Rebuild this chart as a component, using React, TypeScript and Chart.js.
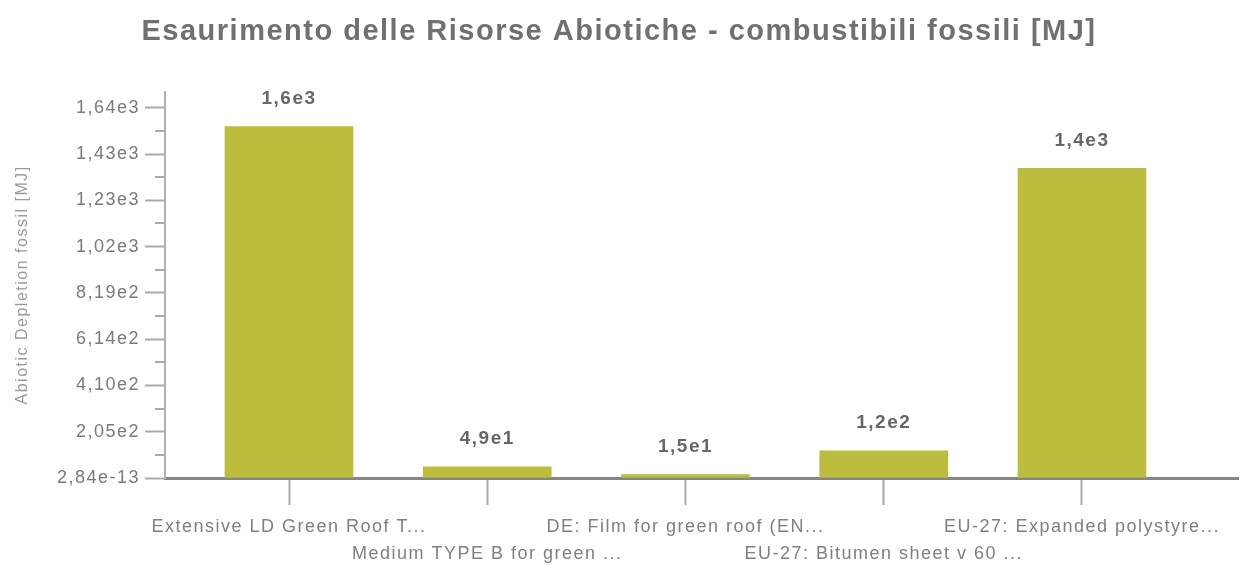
import React, { useEffect, useRef } from 'react';
import { Chart, registerables } from 'chart.js';

Chart.register(...registerables);

const chartTitle = 'Esaurimento delle Risorse Abiotiche - combustibili fossili [MJ]';
const yAxisTitle = 'Abiotic Depletion fossil [MJ]';
const categories = [
  'Extensive LD Green Roof T...',
  'Medium TYPE B for green ...',
  'DE: Film for green roof (EN...',
  'EU-27: Bitumen sheet v 60 ...',
  'EU-27: Expanded polystyre...',
];
const values = [1555, 49, 15, 120, 1370];
const yTickStep = 204.8;
const yTickLabels = ['2,84e-13', '2,05e2', '4,10e2', '6,14e2', '8,19e2', '1,02e3', '1,23e3', '1,43e3', '1,64e3'];
const yMax = 1709;

const FONT = '"Liberation Sans", Arial, sans-serif';
const BAR_COLOR = '#bcbd3c';
const LETTER_SPACING = '1.5px';

const valueLabel = (v: number) => v.toExponential(1).replace('.', ',').replace('e+', 'e');

const letterSpacingPlugin = {
  id: 'letterSpacing',
  beforeLayout(chart: any) {
    chart.ctx.letterSpacing = LETTER_SPACING;
  },
  beforeDraw(chart: any) {
    chart.ctx.letterSpacing = LETTER_SPACING;
  },
};

const dataLabelPlugin = {
  id: 'dataLabels',
  afterDatasetsDraw(chart: any) {
    const ctx = chart.ctx;
    const meta = chart.getDatasetMeta(0);
    ctx.save();
    ctx.font = `bold 19px ${FONT}`;
    ctx.fillStyle = '#676767';
    ctx.textAlign = 'center';
    ctx.textBaseline = 'middle';
    meta.data.forEach((bar: any, i: number) => {
      ctx.fillText(valueLabel(values[i]), bar.x, bar.y - 28);
    });
    ctx.restore();
  },
};

const minorTickPlugin = {
  id: 'minorTicks',
  afterDraw(chart: any) {
    const ctx = chart.ctx;
    const y = chart.scales.y;
    const left = chart.chartArea.left;
    ctx.save();
    ctx.strokeStyle = '#aaaaaa';
    ctx.lineWidth = 2;
    for (let k = 1; k < yTickLabels.length * 2 - 1; k += 2) {
      const py = Math.round(y.getPixelForValue((k * yTickStep) / 2));
      ctx.beginPath();
      ctx.moveTo(left - 10, py);
      ctx.lineTo(left, py);
      ctx.stroke();
    }
    ctx.restore();
  },
};

export default function App() {
  const ref = useRef<HTMLCanvasElement>(null);

  useEffect(() => {
    document.body.style.margin = '0';
    const chart = new Chart(ref.current as HTMLCanvasElement, {
      type: 'bar',
      data: {
        datasets: [
          {
            data: values.map((v, i) => ({ x: i, y: v })) as any,
            backgroundColor: BAR_COLOR,
            barThickness: 128,
          },
        ],
      },
      plugins: [letterSpacingPlugin, dataLabelPlugin, minorTickPlugin],
      options: {
        animation: false,
        responsive: true,
        maintainAspectRatio: false,
        layout: { padding: { top: 0, left: 0, right: 12, bottom: 0 } },
        plugins: {
          legend: { display: false },
          tooltip: { enabled: false },
          title: {
            display: true,
            text: chartTitle,
            color: '#707070',
            font: { family: FONT, size: 29, weight: 'bold', lineHeight: 1.2 },
            padding: { top: 15, bottom: 42 },
          },
        },
        scales: {
          x: {
            type: 'linear',
            offset: false,
            min: -0.6255,
            max: 4.787,
            afterBuildTicks: (scale: any) => {
              scale.ticks = categories.map((_, i) => ({ value: i }));
            },
            afterFit: (scale: any) => {
              scale.height = 87;
            },
            grid: {
              offset: false,
              drawOnChartArea: false,
              drawTicks: true,
              tickLength: 27,
              tickColor: '#a8a8a8',
              tickWidth: 2,
            },
            border: { display: true, color: '#858585', width: 3 },
            ticks: {
              autoSkip: false,
              maxRotation: 0,
              minRotation: 0,
              padding: 9,
              color: '#808080',
              font: { family: FONT, size: 18, lineHeight: 1.5 },
              callback: (value: any) => {
                const i = Math.round(Number(value));
                const lab = categories[i];
                if (lab === undefined) return '';
                return i % 2 === 0 ? lab : ['', lab];
              },
            },
          },
          y: {
            min: 0,
            max: yMax,
            afterBuildTicks: (scale: any) => {
              const t = [];
              for (let k = 0; k < yTickLabels.length * 2 - 1; k++) t.push({ value: (k * yTickStep) / 2 });
              scale.ticks = t;
            },
            afterFit: (scale: any) => {
              scale.width = 165;
            },
            grid: {
              drawOnChartArea: false,
              drawTicks: true,
              tickLength: 20,
              tickWidth: 2,
              tickColor: (ctx: any) => (ctx.index % 2 === 0 ? '#aaaaaa' : 'rgba(0,0,0,0)'),
            },
            border: { display: true, color: '#b0b0b0', width: 2 },
            ticks: {
              autoSkip: false,
              padding: 5,
              color: '#7a7a7a',
              font: { family: FONT, size: 18 },
              callback: (_value: any, index: number) => (index % 2 === 0 ? yTickLabels[index / 2] : ''),
            },
            title: {
              display: true,
              text: yAxisTitle,
              color: '#9a9a9a',
              font: { family: FONT, size: 16 },
              padding: { top: 13, bottom: 0 },
            },
          },
        },
      },
    });
    return () => chart.destroy();
  }, []);

  return (
    <div style={{ width: 1250, height: 565, position: 'relative' }}>
      <canvas ref={ref} />
    </div>
  );
}
